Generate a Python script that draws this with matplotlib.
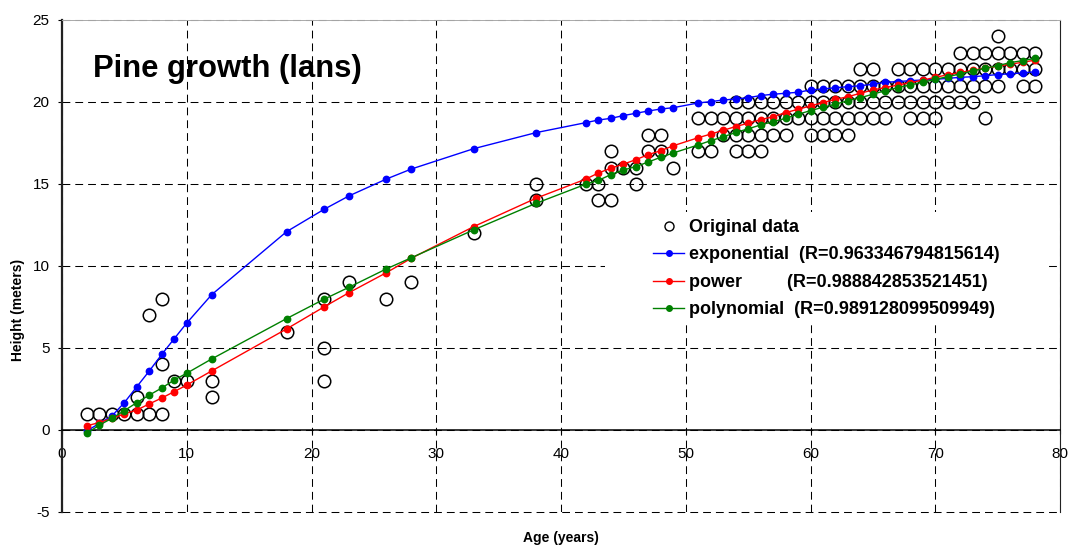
import matplotlib
matplotlib.use("Agg")
import matplotlib.pyplot as plt
from matplotlib.lines import Line2D
from matplotlib.patches import Rectangle

plt.rcParams["font.family"] = ["Liberation Sans", "DejaVu Sans"]
plt.rcParams["axes.unicode_minus"] = False

# measured pine heights (age in years, height in meters)
obs_age = [2, 3, 4, 5, 6, 6, 7, 7, 8, 8, 8, 9, 10, 12, 12, 18, 21, 21, 21, 23, 26, 28, 33,
           38, 38, 42, 43, 43, 44, 44, 44, 45, 46, 46, 47, 47, 48, 48, 49,
           51, 51, 52, 52, 53, 53, 54, 54, 54, 54, 55, 55, 55, 55, 56, 56, 56, 56,
           57, 57, 57, 58, 58, 58, 59, 59, 60, 60, 60, 60, 61, 61, 61, 61,
           62, 62, 62, 62, 63, 63, 63, 63, 64, 64, 64, 64, 65, 65, 65, 65,
           66, 66, 66, 67, 67, 67, 68, 68, 68, 68, 69, 69, 69, 69, 70, 70, 70, 70,
           71, 71, 71, 72, 72, 72, 72, 73, 73, 73, 73, 74, 74, 74, 74, 75, 75, 75, 75,
           76, 76, 77, 77, 77, 78, 78, 78]
obs_height = [1, 1, 1, 1, 1, 2, 1, 7, 1, 4, 8, 3, 3, 2, 3, 6, 3, 5, 8, 9, 8, 9, 12,
              14, 15, 15, 14, 15, 14, 16, 17, 16, 15, 16, 17, 18, 17, 18, 16,
              17, 19, 17, 19, 18, 19, 17, 18, 19, 20, 17, 18, 19, 20, 17, 18, 19, 20,
              18, 19, 20, 18, 19, 20, 19, 20, 18, 19, 20, 21, 18, 19, 20, 21,
              18, 19, 20, 21, 18, 19, 20, 21, 19, 20, 21, 22, 19, 20, 21, 22,
              19, 20, 21, 20, 21, 22, 19, 20, 21, 22, 19, 20, 21, 22, 19, 20, 21, 22,
              20, 21, 22, 20, 21, 22, 23, 20, 21, 22, 23, 19, 21, 22, 23, 21, 22, 23, 24,
              22, 23, 21, 22, 23, 21, 22, 23]

# fitted curves evaluated at the distinct ages
fit_age = [2, 3, 4, 5, 6, 7, 8, 9, 10, 12, 18, 21, 23, 26, 28, 33, 38, 42, 43, 44, 45, 46,
           47, 48, 49, 51, 52, 53, 54, 55, 56, 57, 58, 59, 60, 61, 62, 63, 64, 65, 66, 67,
           68, 69, 70, 71, 72, 73, 74, 75, 76, 77, 78]
fit_exponential = [-0.05, 0.40, 0.85, 1.67, 2.64, 3.60, 4.61, 5.57, 6.52, 8.25, 12.09, 13.45,
                   14.27, 15.30, 15.91, 17.15, 18.13, 18.74, 18.90, 19.00, 19.17, 19.31,
                   19.45, 19.57, 19.65, 19.94, 20.02, 20.12, 20.18, 20.26, 20.39, 20.47,
                   20.53, 20.59, 20.73, 20.79, 20.87, 20.93, 20.99, 21.08, 21.20, 21.24,
                   21.30, 21.34, 21.38, 21.44, 21.50, 21.54, 21.60, 21.67, 21.72, 21.77, 21.84]
fit_power = [0.26, 0.45, 0.71, 0.98, 1.22, 1.59, 1.95, 2.34, 2.74, 3.60, 6.16, 7.50, 8.37,
             9.59, 10.47, 12.40, 14.13, 15.30, 15.67, 15.96, 16.21, 16.48, 16.79, 17.03,
             17.33, 17.82, 18.04, 18.27, 18.50, 18.70, 18.92, 19.10, 19.35, 19.55, 19.76,
             19.96, 20.16, 20.32, 20.53, 20.73, 20.88, 21.03, 21.18, 21.33, 21.50, 21.66,
             21.80, 21.93, 22.06, 22.18, 22.30, 22.42, 22.55]
fit_polynomial = [-0.20, 0.30, 0.71, 1.18, 1.67, 2.13, 2.56, 3.05, 3.46, 4.33, 6.79, 7.97,
                  8.70, 9.82, 10.50, 12.20, 13.82, 14.99, 15.22, 15.57, 15.85, 16.06, 16.34,
                  16.63, 16.89, 17.38, 17.64, 17.87, 18.14, 18.36, 18.60, 18.80, 19.00,
                  19.25, 19.47, 19.68, 19.86, 20.08, 20.26, 20.47, 20.69, 20.87, 21.04,
                  21.20, 21.38, 21.54, 21.71, 21.89, 22.05, 22.21, 22.40, 22.52, 22.66]

r_values = {"exponential": "0.963346794815614",
            "power": "0.988842853521451",
            "polynomial": "0.989128099509949"}

fig = plt.figure(figsize=(10.69, 5.45), dpi=100)
ax = fig.add_axes([0.058, 0.0606, 0.9336, 0.9028])

ax.set_xlim(0, 80)
ax.set_ylim(-5, 25)
ax.set_xticks(range(0, 81, 10))
ax.set_yticks(range(-5, 26, 5))

dash = (0, (7.5, 4.8))
ax.grid(True, color="black", linestyle=dash, linewidth=0.75, zorder=0)
ax.set_axisbelow(True)
for gl in ax.get_ygridlines() + ax.get_xgridlines():
    gl.set_clip_on(False)

ax.spines["bottom"].set_position(("data", 0))
ax.spines["bottom"].set_linewidth(1.1)
ax.spines["left"].set_linewidth(1.6)
ax.spines["left"].set_color("#222222")
ax.spines["top"].set_color("#aaaaaa")
ax.spines["top"].set_linewidth(0.7)
ax.spines["right"].set_color("#222222")
ax.spines["right"].set_linewidth(0.8)

ax.tick_params(axis="both", labelsize=11, direction="out", length=3, width=0.8)
ax.tick_params(axis="x", pad=9)
ax.tick_params(axis="y", pad=6)

# white patch behind the legend hides the grid there
ax.add_patch(Rectangle((0.544, 0.38), 0.441, 0.23, transform=ax.transAxes,
                       facecolor="white", edgecolor="none", zorder=1))

ax.plot(obs_age, obs_height, linestyle="none", marker="o", markersize=9,
        markerfacecolor="none", markeredgecolor="black", markeredgewidth=1.1, zorder=3)
ax.plot(fit_age, fit_exponential, color="blue", lw=1, marker="o", markersize=4.6, zorder=4)
ax.plot(fit_age, fit_power, color="red", lw=1, marker="o", markersize=4.6, zorder=5)
ax.plot(fit_age, fit_polynomial, color="green", lw=1, marker="o", markersize=4.6, zorder=6)

ax.text(2.5, 21.5, "Pine growth (lans)", fontsize=22.3, fontweight="bold", va="baseline")

ax.set_xlabel("Age (years)", fontsize=10, fontweight="bold")
ax.set_ylabel("Height (meters)", fontsize=10, fontweight="bold")
ax.xaxis.set_label_coords(0.5, -0.038)
ax.yaxis.set_label_coords(-0.037, 0.41)

handles = [
    Line2D([], [], linestyle="none", marker="o", markersize=6.5, markerfacecolor="none",
           markeredgecolor="black", markeredgewidth=1),
    Line2D([], [], color="blue", lw=1, marker="o", markersize=4),
    Line2D([], [], color="red", lw=1, marker="o", markersize=4),
    Line2D([], [], color="green", lw=1, marker="o", markersize=4),
]
labels = [
    "Original data",
    "exponential  (R=" + r_values["exponential"] + ")",
    "power         (R=" + r_values["power"] + ")",
    "polynomial  (R=" + r_values["polynomial"] + ")",
]
leg = ax.legend(handles, labels, loc="upper left", bbox_to_anchor=(0.583, 0.614),
                frameon=False, borderpad=0, handlelength=1.75, handletextpad=0.25,
                labelspacing=0.58, prop={"size": 13, "weight": "bold"})
leg.set_zorder(7)

fig.savefig("out.png", dpi=100)
